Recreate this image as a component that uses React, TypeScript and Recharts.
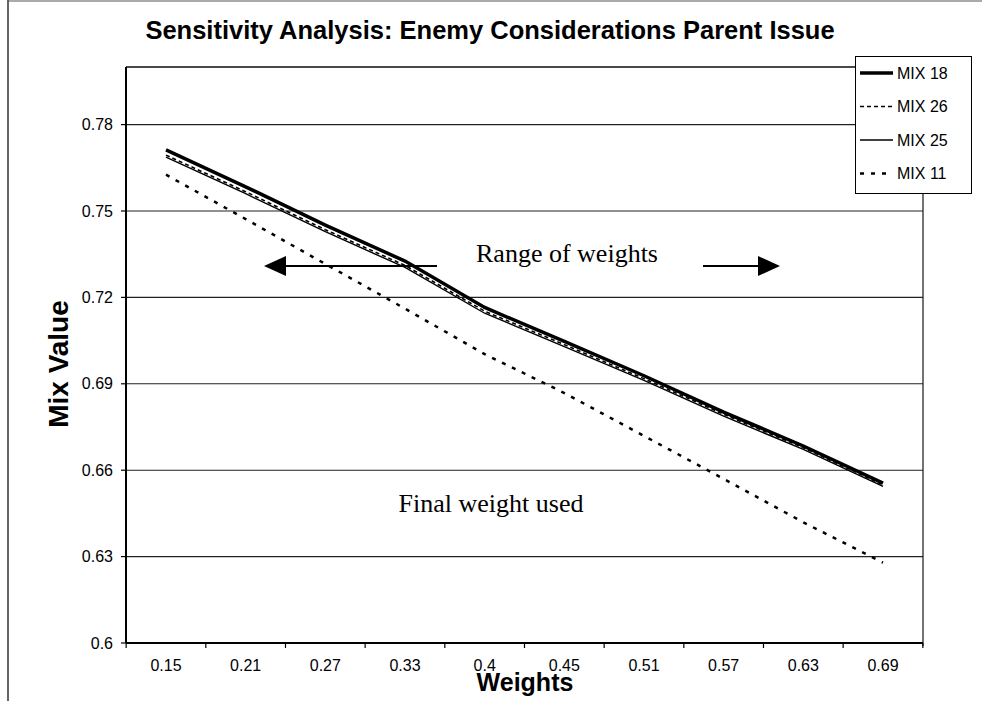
import React from 'react';
import { LineChart, Line, XAxis, YAxis, CartesianGrid, Legend } from 'recharts';

// ---- data ----
const weights = ['0.15', '0.21', '0.27', '0.33', '0.4', '0.45', '0.51', '0.57', '0.63', '0.69'];
const mix18 = [0.7712, 0.7584, 0.7451, 0.7326, 0.7165, 0.7047, 0.6928, 0.6802, 0.6684, 0.6555];
const mix26 = [0.7694, 0.7567, 0.7435, 0.7311, 0.7152, 0.7036, 0.6918, 0.6794, 0.6678, 0.6549];
const mix25 = [0.7687, 0.756, 0.7428, 0.7304, 0.7145, 0.7029, 0.6912, 0.6788, 0.6672, 0.6544];
const mix11 = [0.7626, 0.7472, 0.7316, 0.7161, 0.7003, 0.6868, 0.6719, 0.657, 0.6419, 0.6279];
const yTicks = [0.6, 0.63, 0.66, 0.69, 0.72, 0.75, 0.78];
const yDomain: [number, number] = [0.6, 0.8];

const data = weights.map((w, i) => ({
  w,
  mix18: mix18[i],
  mix26: mix26[i],
  mix25: mix25[i],
  mix11: mix11[i],
}));

const series = [
  { key: 'mix18', name: 'MIX 18', width: 3.5, dash: undefined as string | undefined },
  { key: 'mix26', name: 'MIX 26', width: 1.6, dash: '4 3' },
  { key: 'mix25', name: 'MIX 25', width: 1.4, dash: undefined as string | undefined },
  { key: 'mix11', name: 'MIX 11', width: 2.5, dash: '4 7' },
];

const SANS = '"Liberation Sans", Arial, sans-serif';
const SERIF = '"Liberation Serif", "Times New Roman", serif';
const HALF_BAND = 39.85;

const XTick = (props: any) => {
  const { x, y, payload, index } = props;
  const isLast = payload && payload.value === weights[weights.length - 1];
  return (
    <g>
      <line x1={x - HALF_BAND} x2={x - HALF_BAND} y1={y} y2={y + 5} stroke="#000" strokeWidth={1.2} />
      {isLast ? <line x1={x + HALF_BAND} x2={x + HALF_BAND} y1={y} y2={y + 5} stroke="#000" strokeWidth={1.2} /> : null}
      <text x={x} y={y + 28} textAnchor="middle" fontSize={16} fontFamily={SANS} fill="#000" key={index}>
        {payload.value}
      </text>
    </g>
  );
};

const LegendBox = () => (
  <div
    style={{
      width: 117,
      height: 138,
      border: '1.5px solid #000',
      background: '#fff',
      boxSizing: 'border-box',
    }}
  >
    <svg width={115} height={135} style={{ display: 'block' }}>
      {series.map((s, i) => {
        const cy = 16 + i * 33.5;
        return (
          <g key={s.key}>
            <line
              x1={4}
              x2={37}
              y1={cy}
              y2={cy}
              stroke="#000"
              strokeWidth={s.width}
              strokeDasharray={s.dash}
            />
            <text x={41} y={cy} dy="0.36em" fontSize={16} fontFamily={SANS} fill="#000">
              {s.name}
            </text>
          </g>
        );
      })}
    </svg>
  </div>
);

export default function App() {
  return (
    <div style={{ position: 'absolute', left: 0, top: 0, width: 982, height: 701, background: '#fff' }}>
      <svg width={982} height={701} style={{ position: 'absolute', left: 0, top: 0 }}>
        {/* outer frame remnants */}
        <line x1={8} x2={8} y1={0} y2={701} stroke="#333" strokeWidth={1.5} />
        <line x1={8} x2={982} y1={1} y2={1} stroke="#555" strokeWidth={1} />
        {/* plot frame top/right */}
        <line x1={126} x2={923} y1={67} y2={67} stroke="#444" strokeWidth={1.5} />
        <line x1={923} x2={923} y1={67} y2={646} stroke="#444" strokeWidth={1.5} />
        {/* title */}
        <text x={490} y={39} textAnchor="middle" fontSize={25.5} fontWeight="bold" fontFamily={SANS} fill="#000">
          Sensitivity Analysis: Enemy Considerations Parent Issue
        </text>
        {/* y axis title */}
        <text
          x={0}
          y={0}
          transform="translate(68, 364) rotate(-90)"
          textAnchor="middle"
          fontSize={28}
          fontWeight="bold"
          fontFamily={SANS}
          fill="#000"
        >
          Mix Value
        </text>
        {/* x axis title */}
        <text x={525} y={691} textAnchor="middle" fontSize={25} fontWeight="bold" fontFamily={SANS} fill="#000">
          Weights
        </text>
        {/* annotations */}
        <text x={567} y={262} textAnchor="middle" fontSize={26} fontFamily={SERIF} fill="#000">
          Range of weights
        </text>
        <text x={491} y={512} textAnchor="middle" fontSize={26} fontFamily={SERIF} fill="#000">
          Final weight used
        </text>
        {/* left arrow */}
        <line x1={283} x2={437} y1={266} y2={266} stroke="#000" strokeWidth={2} />
        <polygon points="264,266 286,256 286,276" fill="#000" />
        {/* right arrow */}
        <line x1={703} x2={760} y1={266} y2={266} stroke="#000" strokeWidth={2} />
        <polygon points="780,266 758,256 758,276" fill="#000" />
      </svg>
      <div style={{ position: 'absolute', left: 0, top: 0 }}>
        <LineChart width={982} height={701} data={data} margin={{ top: 67, right: 59, bottom: 28, left: 66 }}>
          <CartesianGrid horizontal vertical={false} stroke="#222" strokeWidth={1.1} />
          <XAxis
            dataKey="w"
            type="category"
            interval={0}
            padding={{ left: 40, right: 40 }}
            height={30}
            tickLine={false}
            tickSize={0}
            tickMargin={0}
            axisLine={{ stroke: '#000', strokeWidth: 2 }}
            tick={<XTick />}
          />
          <YAxis
            type="number"
            domain={yDomain}
            ticks={yTicks}
            interval={0}
            allowDataOverflow
            width={60}
            tickSize={5}
            tickMargin={8}
            tickFormatter={(v: number) => String(v)}
            tick={{ fill: '#000', fontSize: 16, fontFamily: SANS }}
            axisLine={{ stroke: '#000', strokeWidth: 2 }}
            tickLine={{ stroke: '#000', strokeWidth: 1.2 }}
          />
          {series
            .slice()
            .reverse()
            .map((s) => (
              <Line
                key={s.key}
                type="linear"
                dataKey={s.key}
                name={s.name}
                stroke="#000"
                strokeWidth={s.width}
                strokeDasharray={s.dash}
                dot={false}
                activeDot={false}
                isAnimationActive={false}
              />
            ))}
          <Legend
            layout="vertical"
            align="center"
            verticalAlign="middle"
            content={() => <LegendBox />}
            wrapperStyle={{ position: 'absolute', left: 855, top: 56, width: 117, height: 138 }}
          />
        </LineChart>
      </div>
    </div>
  );
}
